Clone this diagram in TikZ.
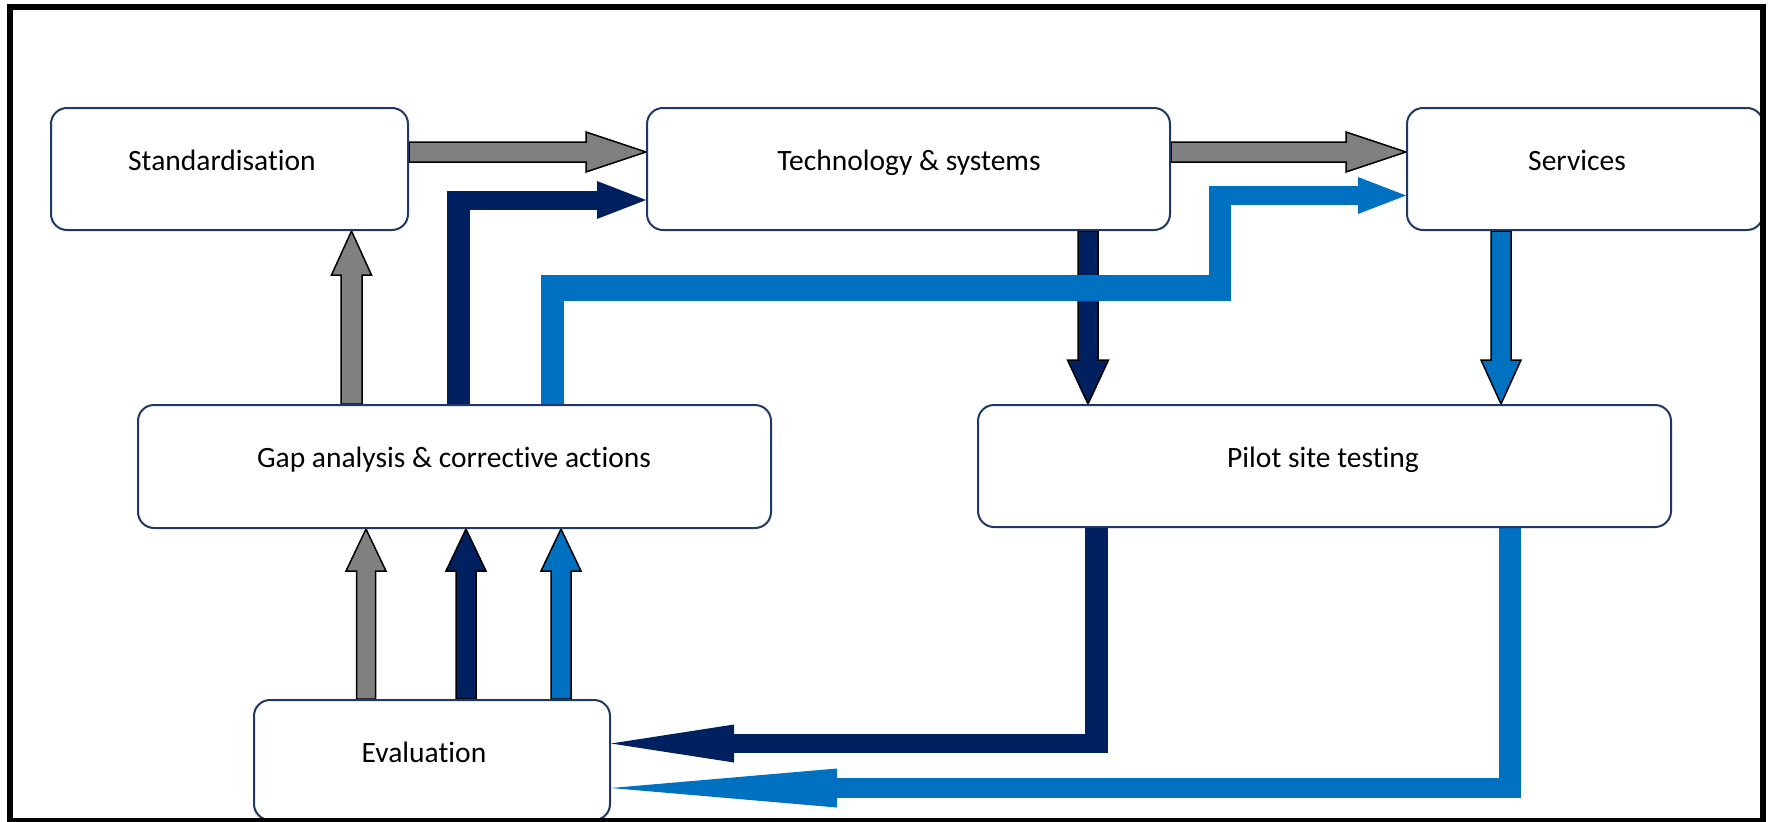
\documentclass[tikz,border=0pt]{standalone}
\usepackage{fontspec}
\setmainfont{Carlito}[Ligatures=NoCommon]
\usetikzlibrary{calc}
\definecolor{cgray}{HTML}{808080}
\definecolor{cnavy}{HTML}{002060}
\definecolor{cblue}{HTML}{0070C0}
\definecolor{cbox}{HTML}{1F3864}
\pgfdeclarelayer{bg}
\pgfsetlayers{bg,main}
% straight fat arrow polygon: #1 style, #2 from, #3 to, #4 shaft half width, #5 head half width, #6 head length
\newcommand\fatarr[6]{%
  \path[#1] let \p1=#2, \p2=#3, \n1={veclen(\x2-\x1,\y2-\y1)},
    \n2={(\x2-\x1)/\n1}, \n3={(\y2-\y1)/\n1} in
    ({\x1-#4*\n3},{\y1+#4*\n2}) -- ({\x2-#6*\n2-#4*\n3},{\y2-#6*\n3+#4*\n2})
    -- ({\x2-#6*\n2-#5*\n3},{\y2-#6*\n3+#5*\n2}) -- (\p2)
    -- ({\x2-#6*\n2+#5*\n3},{\y2-#6*\n3-#5*\n2}) -- ({\x2-#6*\n2+#4*\n3},{\y2-#6*\n3-#4*\n2})
    -- ({\x1+#4*\n3},{\y1-#4*\n2}) -- cycle;}
% triangular head: #1 style, #2 base centre, #3 tip, #4 half width
\newcommand\arrhead[4]{%
  \path[#1] let \p1=#2, \p2=#3, \n1={veclen(\x2-\x1,\y2-\y1)},
    \n2={(\x2-\x1)/\n1}, \n3={(\y2-\y1)/\n1} in
    ({\x1-#4*\n3},{\y1+#4*\n2}) -- (\p2) -- ({\x1+#4*\n3},{\y1-#4*\n2}) -- cycle;}
\begin{document}
\begin{tikzpicture}[x=1pt,y=-1pt,
  box/.style={draw=cbox, line width=2pt, fill=white, rounded corners=16pt, inner sep=0pt},
  lbl/.style={anchor=base, inner sep=0pt, font=\fontsize{29.5}{35}\selectfont},
  gout/.style={fill=cgray, draw=black, line width=1.5pt, line join=miter},
  nout/.style={fill=cnavy, draw=black, line width=1.5pt, line join=miter},
  bout/.style={fill=cblue, draw=black, line width=1.5pt, line join=miter},
  nleg/.style={draw=cnavy, line cap=butt},
  bleg/.style={draw=cblue, line cap=butt}]
\useasboundingbox (0,0) rectangle (1773,822);
% boxes
\node[box, minimum width=357pt, minimum height=122pt] (std)   at (229.5,169) {};
\node[box, minimum width=523pt, minimum height=122pt] (tech)  at (908.5,169) {};
\node[box, minimum width=356pt, minimum height=122pt] (serv)  at (1585,169) {};
\node[box, minimum width=633pt, minimum height=123pt] (gap)   at (454.5,466.5) {};
\node[box, minimum width=693pt, minimum height=122pt] (pilot) at (1324.5,466) {};
\node[box, minimum width=356pt, minimum height=120pt] (eval)  at (432,760) {};
% labels
\node[lbl] (stdT)   at (222,170)  {Standardisation};
\node[lbl] (techT)  at (909,170)  {Technology \& systems};
\node[lbl] (servT)  at (1577,170) {Services};
\node[lbl] (gapT)   at (454,467)  {Gap analysis \& corrective actions};
\node[lbl] (pilotT) at (1323,467) {Pilot site testing};
\node[lbl] (evalT)  at (424,762)  {Evaluation};
% corner coordinates of the bent connectors
\coordinate (nvc)  at (458.5,200);
\coordinate (lbc1) at (552.5,288);
\coordinate (lbc2) at (1220,288);
\coordinate (lbc3) at (1220,195.5);
\coordinate (pnc)  at (1096.5,743.5);
\coordinate (pbc)  at (1510,788);
\begin{pgfonlayer}{bg}
\fill[white] (0,0) rectangle (1773,822);
% outlined straight arrows
\fatarr{gout}{(std.east |- 0,152)}{(tech.west |- 0,152)}{10}{20}{60}
\fatarr{gout}{(tech.east |- 0,152)}{(serv.west |- 0,152)}{10}{20}{60}
\fatarr{gout}{(gap.north -| 351.5,0)}{(std.south -| 351.5,0)}{10.5}{20}{44}
\fatarr{nout}{(tech.south -| 1088,0)}{(pilot.north -| 1088,0)}{10}{20.5}{44}
\fatarr{bout}{(serv.south -| 1501,0)}{(pilot.north -| 1501,0)}{10}{20}{44}
\fatarr{gout}{(eval.north -| 366,0)}{(gap.south -| 366,0)}{9.5}{20}{42}
\fatarr{nout}{(eval.north -| 466,0)}{(gap.south -| 466,0)}{10}{20}{42}
\fatarr{bout}{(eval.north -| 561,0)}{(gap.south -| 561,0)}{10}{20}{42}
% navy: gap -> technology
\draw[nleg, line width=23pt] (gap.north -| nvc) -- ([yshift=9.5pt]nvc);
\draw[nleg, line width=19pt, shorten >=49pt] ([xshift=-11.5pt]nvc) -- (tech.west |- nvc);
\arrhead{fill=cnavy}{([xshift=-49pt]tech.west |- nvc)}{(tech.west |- nvc)}{19}
% light blue: gap -> services
\draw[bleg, line width=23pt] (gap.north -| lbc1) -- ([yshift=13pt]lbc1);
\draw[bleg, line width=26pt] ([xshift=-11.5pt]lbc1) -- ([xshift=11pt]lbc2);
\draw[bleg, line width=22pt] ([yshift=-13pt]lbc2) -- ([yshift=9.5pt]lbc3);
\draw[bleg, line width=19pt, shorten >=48pt] ([xshift=-11pt]lbc3) -- (serv.west |- lbc3);
\arrhead{fill=cblue}{([xshift=-48pt]serv.west |- lbc3)}{(serv.west |- lbc3)}{18.5}
% navy: pilot -> evaluation
\draw[nleg, line width=23pt] (pilot.south -| pnc) -- ([yshift=-9.5pt]pnc);
\draw[nleg, line width=19pt, shorten >=123pt] ([xshift=11.5pt]pnc) -- (eval.east |- pnc);
\arrhead{fill=cnavy}{([xshift=123pt]eval.east |- pnc)}{(eval.east |- pnc)}{19}
% light blue: pilot -> evaluation
\draw[bleg, line width=22pt] (pilot.south -| pbc) -- ([yshift=-10pt]pbc);
\draw[bleg, line width=20pt, shorten >=226pt] ([xshift=11pt]pbc) -- (eval.east |- pbc);
\arrhead{fill=cblue}{([xshift=226pt]eval.east |- pbc)}{(eval.east |- pbc)}{19.5}
\end{pgfonlayer}
% outer frame
\draw[line width=6pt] (9.5,7) rectangle (1763,821);
\end{tikzpicture}
\end{document}
